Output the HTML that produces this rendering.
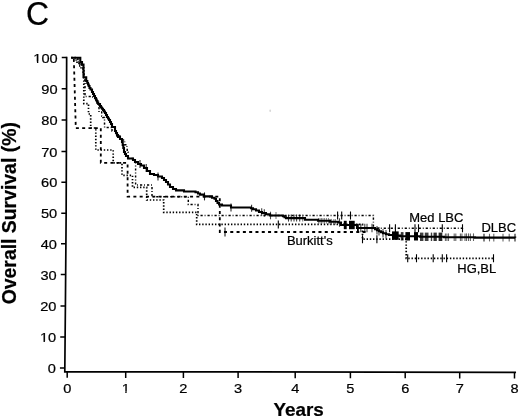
<!DOCTYPE html><html><head><meta charset="utf-8"><style>html,body{margin:0;padding:0;background:#fff;}svg{display:block;filter:grayscale(1);}</style></head><body><svg width="520" height="418" viewBox="0 0 520 418">
<rect width="520" height="418" fill="#fff"/>
<path d="M66.65,57.5 L66.50,120 L66.15,213 L65.40,306 L64.80,372 M64.80,371.60 L515.2,372.30" stroke="#000" stroke-width="1.7" fill="none" stroke-linecap="square"/>
<path d="M59.94,368.00H64.84M60.22,337.00H65.12M60.50,306.00H65.40M60.75,274.60H65.65M61.00,243.80H65.90M61.25,213.20H66.15M61.37,182.20H66.27M61.48,151.40H66.38M61.60,120.10H66.50M61.67,88.80H66.57M61.75,57.60H66.65M67.20,371.60V377.80M125.70,371.69V377.89M183.40,371.78V377.98M238.10,371.87V378.07M295.20,371.96V378.16M350.40,372.04V378.24M405.20,372.13V378.33M459.70,372.21V378.41M514.50,372.30V378.50" stroke="#000" stroke-width="1.5" fill="none"/>
<g font-family="Liberation Sans, sans-serif" fill="#000" stroke="#000" stroke-width="0.22"><text transform="translate(55.84,373.20) scale(1.08,1)" font-size="13.5" text-anchor="end">0</text><text transform="translate(56.12,342.20) scale(1.08,1)" font-size="13.5" text-anchor="end">10</text><text transform="translate(56.40,311.20) scale(1.08,1)" font-size="13.5" text-anchor="end">20</text><text transform="translate(56.65,279.80) scale(1.08,1)" font-size="13.5" text-anchor="end">30</text><text transform="translate(56.90,249.00) scale(1.08,1)" font-size="13.5" text-anchor="end">40</text><text transform="translate(57.15,218.40) scale(1.08,1)" font-size="13.5" text-anchor="end">50</text><text transform="translate(57.27,187.40) scale(1.08,1)" font-size="13.5" text-anchor="end">60</text><text transform="translate(57.38,156.60) scale(1.08,1)" font-size="13.5" text-anchor="end">70</text><text transform="translate(57.50,125.30) scale(1.08,1)" font-size="13.5" text-anchor="end">80</text><text transform="translate(57.57,94.00) scale(1.08,1)" font-size="13.5" text-anchor="end">90</text><text transform="translate(57.65,62.80) scale(1.08,1)" font-size="13.5" text-anchor="end">100</text><text transform="translate(67.20,392.60) scale(1.08,1)" font-size="13.5" text-anchor="middle">0</text><text transform="translate(125.70,392.60) scale(1.08,1)" font-size="13.5" text-anchor="middle">1</text><text transform="translate(183.40,392.60) scale(1.08,1)" font-size="13.5" text-anchor="middle">2</text><text transform="translate(238.10,392.60) scale(1.08,1)" font-size="13.5" text-anchor="middle">3</text><text transform="translate(295.20,392.60) scale(1.08,1)" font-size="13.5" text-anchor="middle">4</text><text transform="translate(350.40,392.60) scale(1.08,1)" font-size="13.5" text-anchor="middle">5</text><text transform="translate(405.20,392.60) scale(1.08,1)" font-size="13.5" text-anchor="middle">6</text><text transform="translate(459.70,392.60) scale(1.08,1)" font-size="13.5" text-anchor="middle">7</text><text transform="translate(514.50,392.60) scale(1.08,1)" font-size="13.5" text-anchor="middle">8</text><text transform="translate(26.00,25.30) scale(0.95,1)" font-size="33.6">C</text><text transform="translate(273.50,415.50) scale(1.03,1)" font-size="18.3" font-weight="bold">Years</text><text transform="translate(16.20,304.30) rotate(-90)" font-size="19.4" font-weight="bold">Overall Survival (%)</text><text transform="translate(409.30,221.80) scale(1.03,1)" font-size="12.6">Med LBC</text><text transform="translate(481.40,232.00) scale(1.03,1)" font-size="12.6">DLBC</text><text transform="translate(286.90,245.00) scale(1.03,1)" font-size="12.6">Burkitt&#39;s</text><text transform="translate(457.30,272.70) scale(1.03,1)" font-size="12.6">HG,BL</text></g>
<rect x="39.76" y="340.95" width="3.78" height="1.9" fill="#fff"/><rect x="44.89" y="340.95" width="3.40" height="1.9" fill="#fff"/><rect x="33.18" y="61.55" width="3.78" height="1.9" fill="#fff"/><rect x="38.32" y="61.55" width="3.40" height="1.9" fill="#fff"/><rect x="121.50" y="391.35" width="3.78" height="1.9" fill="#fff"/><rect x="126.63" y="391.35" width="3.40" height="1.9" fill="#fff"/>
<path d="M71.3,57.7H80.3V62H82V64.5H83.5V77.3H86.2V81H87.3V83H88V84.5H88.7V86H89.5V88H90.5V89.5H92V92H93V94H94V96H95V98H96V99.5H96.7V101H97.5V102.5H98.2V104H100V106H101V107.5H102V108.8H103V110H104V111.5H105V113H106V115H107V117H108V118.5H109V120H110V122H111V124H112V127H115V131H116V133H117V135H118V137H120V139H122V142H122.7V145H123.3V148H124V152H125V154H126V156H128V158.5H133V160H135V162H138V164H141V165.5H144V168H147V171H150V174H154V175H158V176.5H162V178H164V180H166V182H168V184.5H170V187H173V189H176V190.4H184V191.5H195.5V192.3H198V193.5H200V194.6H204V196.4H212V197.7H214.5V198.8H216V201H217.5V203H219V204.5H222V205.5H231V207.5H251V208.3H253V209.3H256V210.5H259V212H262V213H266V214.3H270V215.5H283V216.2H284.5V217.2H286V218.1H305V219.8H318V220.8H330V221.7H338V222.5H341V225H357V228H375V229.2H377V230.2H379V231.2H381V232.2H383V233.2H386V234.2H389V235H393V235.6H400V236.3H420V236.8H444V237.2H475V237.6H515.2V237.7" stroke="#000" stroke-width="2.1" fill="none"/>
<path d="M71.3,57.7H73.8L75.8,128.1H100.8V162.8H127.6V196.6H219.8V232.0H368" stroke="#000" stroke-width="1.8" fill="none" stroke-dasharray="3 3.3" stroke-dashoffset="2.6"/>
<path d="M71.3,57.7H75V60H77V63H79V66H81V69H83V72H83.8V103.6H88.5V114H90.7V128H95.8V150H113.2V162.8H122V175.3H132.5V187.4H146.7V200H163.7V212.3H196.7V224.4H362.5V239.2H406.2V258.3H493.5V258.3" stroke="#000" stroke-width="1.7" fill="none" stroke-dasharray="1.4 1.8"/>
<path d="M71.3,57.7H76V59H78V62H80V65H82V68H84V80H85V96.4H92V97H94V98H95V99.5H96V101H97V103H98V105H99V112H101.7V116H102.7V117.5H104.5V124H104.6V127.4H112V131H116V136H120V140H124.7V144.7H126.9V148H127.2V152.3H128V158.5H133V160H135.6V162.5H135.6V185H152V196.8H188.3V204.5H198V215.5H373.4V228.3H462.5V228.2" stroke="#000" stroke-width="1.45" fill="none" stroke-dasharray="2.2 1.9 0.9 2"/>
<path d="M140,160.00V168.00" stroke="#000" stroke-width="1.1" opacity="0.85"/><path d="M146.2,164.00V172.00" stroke="#000" stroke-width="1.1" opacity="0.85"/><path d="M158,172.50V180.50" stroke="#000" stroke-width="1.1" opacity="0.85"/><path d="M204.5,192.40V200.40" stroke="#000" stroke-width="1.1" opacity="0.85"/><path d="M231,203.50V211.50" stroke="#000" stroke-width="1.1" opacity="0.85"/><path d="M251.6,204.80V211.80" stroke="#000" stroke-width="1.1" opacity="0.8"/><path d="M261.7,208.20V215.80" stroke="#000" stroke-width="1.1" opacity="0.75"/><path d="M264.3,209.20V216.80" stroke="#000" stroke-width="1.1" opacity="0.75"/><path d="M270.5,211.70V219.30" stroke="#000" stroke-width="1.1" opacity="0.7"/><path d="M276,212.00V219.00" stroke="#000" stroke-width="1.1" opacity="0.5"/><path d="M288.5,214.60V221.60" stroke="#000" stroke-width="1.1" opacity="0.75"/><path d="M291.2,214.60V221.60" stroke="#000" stroke-width="1.1" opacity="0.75"/><path d="M294,214.60V221.60" stroke="#000" stroke-width="1.1" opacity="0.75"/><path d="M296.6,214.60V221.60" stroke="#000" stroke-width="1.1" opacity="0.75"/><path d="M299.7,214.60V221.60" stroke="#000" stroke-width="1.1" opacity="0.75"/><path d="M302.7,214.60V221.60" stroke="#000" stroke-width="1.1" opacity="0.5"/><path d="M318.5,218.00V223.60" stroke="#000" stroke-width="1.1" opacity="0.45"/><path d="M320,218.00V223.60" stroke="#000" stroke-width="1.1" opacity="0.45"/><path d="M321.5,218.00V223.60" stroke="#000" stroke-width="1.1" opacity="0.45"/><path d="M323,218.00V223.60" stroke="#000" stroke-width="1.1" opacity="0.45"/><path d="M324.6,218.00V223.60" stroke="#000" stroke-width="1.1" opacity="0.45"/><path d="M326.5,218.00V223.60" stroke="#000" stroke-width="1.1" opacity="0.45"/><path d="M328.5,218.00V223.60" stroke="#000" stroke-width="1.1" opacity="0.45"/><path d="M330,218.90V224.50" stroke="#000" stroke-width="1.1" opacity="0.45"/><path d="M331.5,218.90V224.50" stroke="#000" stroke-width="1.1" opacity="0.45"/><path d="M333.8,218.90V224.50" stroke="#000" stroke-width="1.1" opacity="0.45"/><path d="M335.4,218.90V224.50" stroke="#000" stroke-width="1.1" opacity="0.45"/><path d="M339.5,218.30V226.70" stroke="#000" stroke-width="1.1" opacity="0.75"/><path d="M360.8,223.80V232.20" stroke="#000" stroke-width="1.1" opacity="0.75"/><path d="M364.8,223.80V232.20" stroke="#000" stroke-width="1.1" opacity="0.75"/><path d="M367,223.80V232.20" stroke="#000" stroke-width="1.1" opacity="0.75"/><path d="M372,223.80V232.20" stroke="#000" stroke-width="1.1" opacity="0.75"/><path d="M377,226.00V234.40" stroke="#000" stroke-width="1.1" opacity="0.75"/><path d="M379,227.00V235.40" stroke="#000" stroke-width="1.1" opacity="0.75"/><path d="M383,229.00V237.40" stroke="#000" stroke-width="1.1" opacity="0.75"/><path d="M386,230.00V238.40" stroke="#000" stroke-width="1.1" opacity="0.75"/><path d="M445.4,233.40V241.00" stroke="#000" stroke-width="1.1" opacity="0.6"/><path d="M446.9,233.40V241.00" stroke="#000" stroke-width="1.1" opacity="0.6"/><path d="M448.5,233.40V241.00" stroke="#000" stroke-width="1.1" opacity="0.6"/><path d="M454.2,233.40V241.00" stroke="#000" stroke-width="1.1" opacity="0.6"/><path d="M455.8,233.40V241.00" stroke="#000" stroke-width="1.1" opacity="0.6"/><path d="M460.4,233.40V241.00" stroke="#000" stroke-width="1.1" opacity="0.6"/><path d="M461.9,233.40V241.00" stroke="#000" stroke-width="1.1" opacity="0.6"/><path d="M465,233.40V241.00" stroke="#000" stroke-width="1.1" opacity="0.6"/><path d="M466.5,233.40V241.00" stroke="#000" stroke-width="1.1" opacity="0.6"/><path d="M468.5,233.40V241.00" stroke="#000" stroke-width="1.1" opacity="0.6"/><path d="M470.4,233.40V241.00" stroke="#000" stroke-width="1.1" opacity="0.6"/><path d="M473.5,233.40V241.00" stroke="#000" stroke-width="1.1" opacity="0.6"/><path d="M489.5,233.80V241.40" stroke="#000" stroke-width="1.1" opacity="0.6"/><path d="M493.8,233.80V241.40" stroke="#000" stroke-width="1.1" opacity="0.6"/><path d="M503,233.80V241.40" stroke="#000" stroke-width="1.1" opacity="0.6"/><path d="M509.2,233.80V241.40" stroke="#000" stroke-width="1.1" opacity="0.6"/><path d="M484,233.80V241.40" stroke="#000" stroke-width="1.1" opacity="0.9"/><path d="M515,233.80V241.40" stroke="#000" stroke-width="1.1" opacity="0.9"/>
<rect x="343.8" y="220.80" width="2.90" height="8.40" fill="#000" opacity="1"/><rect x="349" y="220.80" width="5.70" height="8.40" fill="#000" opacity="1"/><rect x="357" y="223.80" width="1.80" height="8.40" fill="#000" opacity="1"/><rect x="392" y="231.40" width="6.70" height="8.40" fill="#000" opacity="1"/><rect x="400.8" y="232.10" width="2.70" height="8.40" fill="#000" opacity="0.8"/><rect x="405.4" y="232.10" width="4.60" height="8.40" fill="#000" opacity="1"/><rect x="414" y="232.10" width="4.00" height="8.40" fill="#000" opacity="1"/><rect x="420" y="232.60" width="3.40" height="8.40" fill="#000" opacity="0.75"/><rect x="424.8" y="232.60" width="3.70" height="8.40" fill="#000" opacity="0.75"/><rect x="430.8" y="232.60" width="1.40" height="8.40" fill="#000" opacity="0.75"/><rect x="433.5" y="232.60" width="3.30" height="8.40" fill="#000" opacity="0.8"/><rect x="438.6" y="232.60" width="3.70" height="8.40" fill="#000" opacity="0.85"/>
<path d="M278.3,220.40V228.40M362.5,235.20V243.20M376.9,235.20V243.20M407.7,254.30V262.30M416.5,254.30V262.30M433.2,254.30V262.30M442.3,254.30V262.30M446.6,254.30V262.30M493.5,254.30V262.30" stroke="#000" stroke-width="1.1" fill="none" opacity="1.0"/>
<path d="M337.6,211.50V219.50M341.7,211.50V219.50M350.5,211.50V219.50M389.6,224.30V232.30M395.4,224.30V232.30M415,224.30V232.30M418.5,224.30V232.30M442.3,224.30V232.30M462.5,224.20V232.20" stroke="#000" stroke-width="1.1" fill="none" opacity="1.0"/>
<path d="M225,227.50V236.50" stroke="#000" stroke-width="1.0" fill="none" opacity="1.0"/>
<ellipse cx="270.2" cy="110.8" rx="0.9" ry="1.3" fill="#d8d8d8"/>
</svg></body></html>
